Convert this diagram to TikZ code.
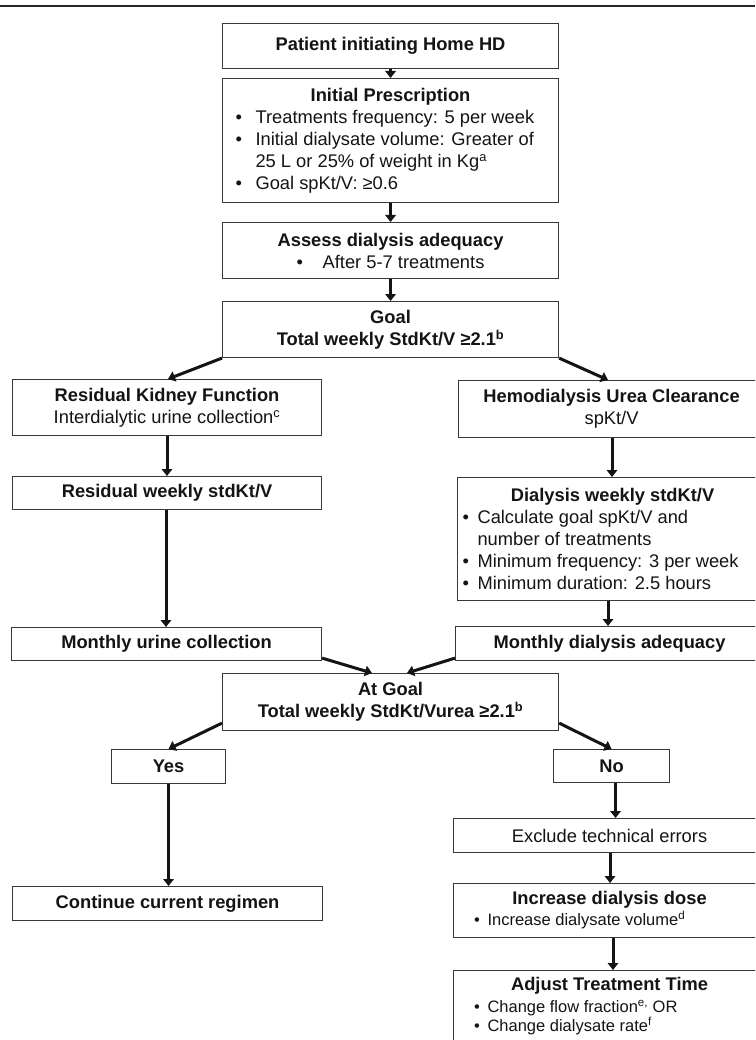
\documentclass[tikz,border=0pt]{standalone}
\usepackage{fontspec}
\setmainfont{Liberation Sans}
\usetikzlibrary{arrows.meta}
\newcommand\fsN{\fontsize{18.3}{22}\selectfont}
\newcommand\fsS{\fontsize{16.5}{21}\selectfont}
\newcommand\bl[2][20pt]{\makebox[#1][l]{•}#2}
\begin{document}
\begin{tikzpicture}[x=1pt,y=-1pt,
  bx/.style={draw=black!78,line width=1.1pt,inner sep=0pt,anchor=north west,font=\fsN,align=center,text=black!92},
  arr/.style={draw=black!92,line width=3pt,-{Triangle[length=7pt,width=10.5pt]}}]
\useasboundingbox (0,0) rectangle (755,1040);
\clip (0,0) rectangle (755,1040);
\fill[white] (0,0) rectangle (755,1040);
\draw[line width=2.2pt,black!85] (0,6) -- (755,6);

\node[bx,minimum width=336pt,minimum height=45pt] (b1) at (222,23) {\textbf{Patient initiating Home HD}};
\node[bx,minimum width=336pt,minimum height=124pt] (b2) at (222,78) {\begin{minipage}{310pt}\centering\textbf{Initial Prescription}\par\raggedright
\bl{Treatments frequency: 5 per week}\par
\bl{Initial dialysate volume: Greater of}\par
\hspace*{20pt}25 L or 25\% of weight in Kg\textsuperscript{a}\par
\bl{Goal spKt/V: ≥0.6}\end{minipage}};
\node[bx,minimum width=336pt,minimum height=56pt] (b3) at (222,222) {\textbf{Assess dialysis adequacy}\\\makebox[26pt][l]{•}After 5-7 treatments};
\node[bx,minimum width=336pt,minimum height=56pt] (goal) at (222,301) {\textbf{Goal}\\\textbf{Total weekly StdKt/V ≥2.1\textsuperscript{b}}};
\node[bx,minimum width=309pt,minimum height=56pt] (b5) at (12,379) {\textbf{Residual Kidney Function}\\Interdialytic urine collection\textsuperscript{c}};
\node[bx,minimum width=306pt,minimum height=57pt] (b6) at (458,380) {\textbf{Hemodialysis Urea Clearance}\\spKt/V};
\node[bx,minimum width=309pt,minimum height=33pt] (b7) at (12,476) {\textbf{Residual weekly stdKt/V}};
\node[bx,minimum width=310pt,minimum height=123pt] (b8) at (457,477) {\begin{minipage}{300pt}\centering\textbf{Dialysis weekly stdKt/V}\par\raggedright
\bl[15pt]{Calculate goal spKt/V and}\par
\hspace*{15pt}number of treatments\par
\bl[15pt]{Minimum frequency: 3 per week}\par
\bl[15pt]{Minimum duration: 2.5 hours}\end{minipage}};
\node[bx,minimum width=310pt,minimum height=33pt] (mu) at (11,627) {\textbf{Monthly urine collection}};
\node[bx,minimum width=308pt,minimum height=34pt] (md) at (455,626) {\textbf{Monthly dialysis adequacy}};
\node[bx,minimum width=336pt,minimum height=57pt] (ag) at (222,673) {\textbf{At Goal}\\\textbf{Total weekly StdKt/Vurea ≥2.1\textsuperscript{b}}};
\node[bx,minimum width=114pt,minimum height=34pt] (yes) at (111,749) {\textbf{Yes}};
\node[bx,minimum width=116pt,minimum height=33pt] (no) at (553,749) {\textbf{No}};
\node[bx,minimum width=310pt,minimum height=34pt] (cont) at (12,886) {\textbf{Continue current regimen}};
\node[bx,minimum width=312pt,minimum height=34pt] (ex) at (453,818) {Exclude technical errors};
\node[bx,minimum width=312pt,minimum height=54pt] (inc) at (453,883) {\begin{minipage}{271pt}\centering\textbf{Increase dialysis dose}\par\raggedright
\fsS\bl[13.5pt]{Increase dialysate volume\textsuperscript{d}}\end{minipage}};
\node[bx,minimum width=312pt,minimum height=71pt] (adj) at (453,970) {\begin{minipage}{271pt}\centering\textbf{Adjust Treatment Time}\par\raggedright
\fontsize{16.5}{15.5}\selectfont\vspace{5.5pt}
\bl[13.5pt]{Change flow fraction\textsuperscript{e,} OR}\par
\bl[13.5pt]{Change dialysate rate\textsuperscript{f}}\end{minipage}};

\draw[arr] (b1) -- (b2);
\draw[arr] (b2) -- (b3);
\draw[arr] (b3) -- (goal);
\draw[arr] (goal.south west) -- ([xshift=156pt]b5.north west);
\draw[arr] (goal.south east) -- ([xshift=150pt]b6.north west);
\coordinate (p5) at ([xshift=155pt]b5.south west);
\draw[arr] (p5) -- (p5 |- b7.north);
\coordinate (p7) at ([xshift=154pt]b7.south west);
\draw[arr] (p7) -- (p7 |- mu.north);
\coordinate (p6) at ([xshift=154pt]b6.south west);
\draw[arr] (p6) -- (p6 |- b8.north);
\coordinate (p8) at ([xshift=151pt]b8.south west);
\draw[arr] (p8) -- (p8 |- md.north);
\draw[arr] ([yshift=3pt]mu.south east) -- ([xshift=150pt]ag.north west);
\draw[arr] ([yshift=3pt]md.south west) -- ([xshift=185pt]ag.north west);
\draw[arr] ([yshift=8pt]ag.south west) -- (yes.north);
\draw[arr] ([yshift=8pt]ag.south east) -- (no.north);
\draw[arr] (yes.south) -- (yes.south |- cont.north);
\coordinate (pn) at ([xshift=4pt]no.south);
\draw[arr] (pn) -- (pn |- ex.north);
\coordinate (pe) at ([xshift=157pt]ex.south west);
\draw[arr] (pe) -- (pe |- inc.north);
\coordinate (pi) at ([xshift=160pt]inc.south west);
\draw[arr] (pi) -- (pi |- adj.north);
\end{tikzpicture}
\end{document}
